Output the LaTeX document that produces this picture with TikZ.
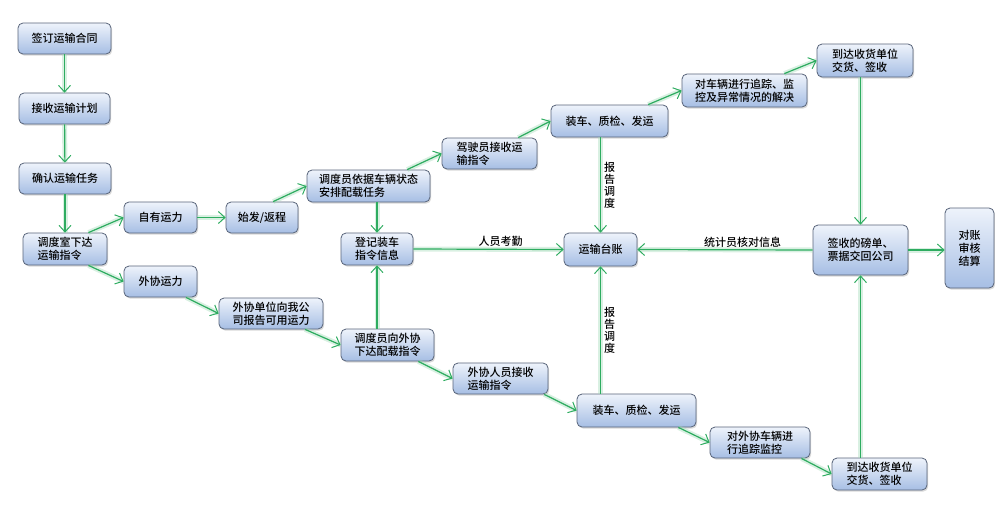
\documentclass[tikz,border=0pt]{standalone}
\usepackage{fontspec}
\setmainfont{Noto Sans CJK SC}[UprightFont=* Medium]
\usepackage{tikz}
\usetikzlibrary{arrows.meta,shadows}
\definecolor{boxtop}{RGB}{238,243,251}
\definecolor{boxbot}{RGB}{166,190,228}
\definecolor{boxline}{RGB}{88,100,122}
\definecolor{flowgreen}{RGB}{46,172,96}
\tikzset{
  box/.style={draw=boxline, line width=0.8pt, rounded corners=5pt, top color=boxtop, bottom color=boxbot,
    drop shadow={shadow xshift=1.2pt, shadow yshift=-1.6pt, opacity=0.3}, align=left, inner sep=2pt,
    font=\fontsize{11}{13}\selectfont},
  flow/.style={draw=flowgreen, line width=1.2pt, -{Straight Barb[length=6.5pt,width=12pt,line width=1pt]},
    preaction={draw=flowgreen!45, line width=5pt, draw opacity=0.4, -}},
  tag/.style={font=\fontsize{11}{13}\selectfont, inner sep=2pt},
  vtag/.style={font=\fontsize{11}{12}\selectfont, align=center, inner sep=3pt}
}
\begin{document}
\begin{tikzpicture}[x=1pt,y=-1pt]
\useasboundingbox (0,0) rectangle (995,509);
\node[box, minimum width=93pt, minimum height=31pt] (sign) at (64.5,38.5) {签订运输合同};
\node[box, minimum width=91pt, minimum height=31pt] (plan) at (64.5,108.5) {接收运输计划};
\node[box, minimum width=92pt, minimum height=31pt] (task) at (65,178.5) {确认运输任务};
\node[box, minimum width=84pt, minimum height=32pt] (order) at (65,249) {调度室下达\\运输指令};
\node[box, minimum width=73pt, minimum height=31pt] (own) at (160.5,217.5) {自有运力};
\node[box, minimum width=72pt, minimum height=31pt] (trip) at (262,217.5) {始发/返程};
\node[box, minimum width=73pt, minimum height=31pt] (outs) at (160.5,281.5) {外协运力};
\node[box, minimum width=104pt, minimum height=31pt] (report) at (271,313.5) {外协单位向我公\\司报告可用运力};
\node[box, minimum width=123pt, minimum height=32pt] (assign) at (368.5,186) {调度员依据车辆状态\\安排配载任务};
\node[box, minimum width=95pt, minimum height=31pt] (driver) at (489.5,153.5) {驾驶员接收运\\输指令};
\node[box, minimum width=117pt, minimum height=32pt] (loadA) at (609.5,121) {装车、质检、发运};
\node[box, minimum width=125pt, minimum height=33pt] (track) at (744.5,90.5) {对车辆进行追踪、监\\控及异常情况的解决};
\node[box, minimum width=96pt, minimum height=33pt] (arriveA) at (865,60.5) {到达收货单位\\交货、签收};
\node[box, minimum width=72pt, minimum height=32pt] (record) at (377,249) {登记装车\\指令信息};
\node[box, minimum width=73pt, minimum height=33pt] (ledger) at (600.5,249.5) {运输台账};
\node[box, minimum width=93pt, minimum height=32pt] (issue) at (387.5,345) {调度员向外协\\下达配载指令};
\node[box, minimum width=95pt, minimum height=31pt] (recv) at (500.5,378.5) {外协人员接收\\运输指令};
\node[box, minimum width=119pt, minimum height=33pt] (loadB) at (636.5,410.5) {装车、质检、发运};
\node[box, minimum width=100pt, minimum height=31pt] (trackB) at (760,442.5) {对外协车辆进\\行追踪监控};
\node[box, minimum width=95pt, minimum height=32pt] (arriveB) at (879.5,474) {到达收货单位\\交货、签收};
\node[box, minimum width=95pt, minimum height=50pt] (back) at (860.5,250) {签收的磅单、\\票据交回公司};
\node[box, minimum width=49pt, minimum height=80pt, align=center] (audit) at (969.5,248) {对账\\审核\\结算};
\draw[flow] (sign) -- (plan);
\draw[flow] (plan) -- (task);
\draw[flow] (task) -- (order);
\draw[flow] (order.35) -- (own.west);
\draw[flow] (own) -- (trip);
\draw[flow] (trip.55) -- (assign.west);
\draw[flow] (order.-35) -- (outs.west);
\draw[flow] (outs.-32) -- (report.west);
\draw[flow] (report.-25) -- (issue.west);
\draw[flow] (issue.-28) -- (recv.west);
\draw[flow] (recv.-20) -- (loadB.west);
\draw[flow] (loadB.-22) -- (trackB.west);
\draw[flow] (trackB.-21) -- (arriveB.west);
\draw[flow] (arriveB.north -| back) -- (back.south);
\draw[flow] (record |- issue.north) -- (record.south);
\draw[flow] (assign.south -| record) -- (record.north);
\draw[flow] (assign.23) -- (driver.west);
\draw[flow] (driver.29) -- (loadA.west);
\draw[flow] (loadA.23) -- (track.west);
\draw[flow] (track.23) -- (arriveA.west);
\draw[flow] (arriveA.south -| back) -- (back.north);
\draw[flow] (back.east) -- (back.east -| audit.west);
\draw[flow] (back.west) -- node[tag, pos=0.4, above] (checkmsg) {统计员核对信息} (ledger.east);
\draw[flow] (record.east) -- node[tag, pos=0.58, above] (attend) {人员考勤} (ledger.west);
\draw[flow] (loadA.south -| ledger) -- node[vtag, midway, right] (repA) {报\\告\\调\\度} (ledger.north);
\draw[flow] (loadB.north -| ledger) -- node[vtag, midway, right] (repB) {报\\告\\调\\度} (ledger.south);
\end{tikzpicture}
\end{document}
